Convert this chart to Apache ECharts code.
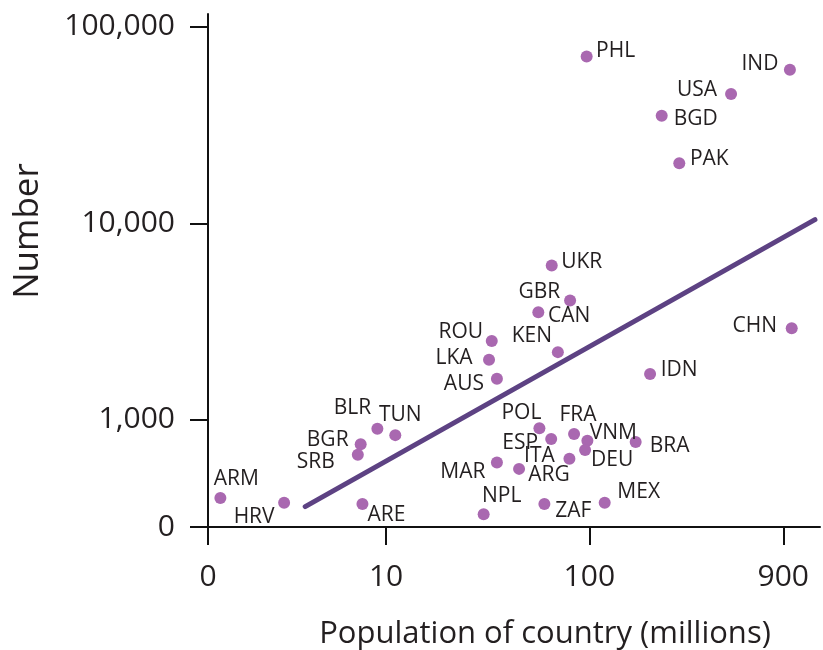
<!DOCTYPE html>
<html>
<head>
<meta charset="utf-8">
<script src="https://cdn.jsdelivr.net/npm/echarts@6/dist/echarts.min.js"></script>
<style>html,body{margin:0;padding:0;background:#fff}#chart{width:823px;height:650px}</style>
</head>
<body>
<div id="chart"></div>
<script>
// ---- data ----
const countries = ['PHL','IND','USA','BGD','PAK','UKR','GBR','CAN','ROU','KEN','LKA','AUS','IDN','CHN',
  'ARM','HRV','ARE','BGR','SRB','BLR','TUN','MAR','NPL','POL','ESP','FRA','VNM','DEU','ITA','ARG','BRA','ZAF','MEX'];
const population = [97, 970, 498, 227, 277, 65.3, 56.1, 80.4, 33.1, 70, 32.1, 35.1, 199, 990,
  1.53, 3.15, 7.65, 7.5, 7.26, 9.06, 11.1, 35.1, 30.2, 56.8, 64.9, 84.1, 97.8, 95.3, 79.8, 45.1, 169, 60.1, 119];
const numbers = [70600, 60400, 45400, 35200, 20200, 6100, 3530, 4050, 2520, 2210, 2020, 1620, 1710, 2920,
  400, 379, 373, 752, 664, 900, 836, 607, 331, 907, 800, 846, 782, 703, 634, 563, 771, 373, 379];
const trendX = [4.0, 1288];
const trendY = [362, 10430];
const xTickValues = [1.33, 10, 100, 900];
const xTickLabels = ['0', '10', '100', '900'];
const yTickValues = [285, 1000, 10000, 100000];
const yTickLabels = ['0', '1,000', '10,000', '100,000'];
const xMax = 1364;
const yMax = 116000;

// ---- label placement (style only): text-centre offset from the dot centre ----
const labelOffsets = {
  PHL:[29,-5], IND:[-30,-6], USA:[-34,-4], BGD:[34,3], PAK:[30,-4], UKR:[30,-3],
  GBR:[1,-20], CAN:[-1,16], ROU:[-31,-9], KEN:[-26,-16], LKA:[-35,-2], AUS:[-33,5],
  IDN:[29,-4], CHN:[-37,-2], ARM:[16,-19], HRV:[-30,14], ARE:[24,11], BGR:[-33,-4],
  SRB:[-42,7], BLR:[-25,-21], TUN:[5,-20], MAR:[-34,10], NPL:[18,-18], POL:[-18,-15],
  ESP:[-31,4], FRA:[4,-19], VNM:[26,-8], DEU:[27,10], ITA:[-30,-3], ARG:[30,6],
  BRA:[34,4], ZAF:[29,7], MEX:[34,-11]
};

const lg = Math.log10;
const FONT = '"Open Sans"';
const TEXT = '#231f20';
const DOT = 12;

function tickFormatter(values, labels) {
  return function (v) {
    for (let i = 0; i < values.length; i++) {
      if (Math.abs(lg(values[i]) - v) < 1e-6) return labels[i];
    }
    return '';
  };
}

const scatterData = countries.map((c, i) => {
  const off = labelOffsets[c];
  return {
    name: c,
    value: [lg(population[i]), lg(numbers[i])],
    label: { position: [DOT / 2 + off[0], DOT / 2 + off[1]] }
  };
});

const chart = echarts.init(document.getElementById('chart'), null, { renderer: 'canvas' });
chart.setOption({
  animation: false,
  backgroundColor: '#fff',
  grid: { left: 208, right: 3, top: 14, bottom: 123, containLabel: false, outerBoundsMode: 'none' },
  xAxis: {
    type: 'value',
    min: lg(xTickValues[0]),
    max: lg(xMax),
    name: 'Population of country (millions)',
    nameLocation: 'middle',
    nameGap: 92,
    nameTextStyle: { fontFamily: FONT, fontSize: 31, color: TEXT, padding: [0, 0, 0, 62] },
    splitLine: { show: false },
    axisLine: { onZero: false, lineStyle: { color: '#111', width: 2 } },
    axisTick: { customValues: xTickValues.map(lg), length: 18, lineStyle: { color: '#111', width: 2 } },
    axisLabel: {
      customValues: xTickValues.map(lg),
      formatter: tickFormatter(xTickValues, xTickLabels),
      margin: 35, fontFamily: FONT, fontSize: 30, color: TEXT
    }
  },
  yAxis: {
    type: 'value',
    min: lg(yTickValues[0]),
    max: lg(yMax),
    name: 'Number',
    nameLocation: 'middle',
    nameRotate: 90,
    nameGap: 162,
    nameTextStyle: { fontFamily: FONT, fontSize: 35, color: TEXT, padding: [0, 0, 0, 79] },
    splitLine: { show: false },
    axisLine: { onZero: false, lineStyle: { color: '#111', width: 2 } },
    axisTick: { customValues: yTickValues.map(lg), length: 18, lineStyle: { color: '#111', width: 2 } },
    axisLabel: {
      customValues: yTickValues.map(lg),
      formatter: tickFormatter(yTickValues, yTickLabels),
      margin: 33, fontFamily: FONT, fontSize: 30, color: TEXT
    }
  },
  series: [
    {
      type: 'line',
      data: trendX.map((x, i) => [lg(x), lg(trendY[i])]),
      symbol: 'none',
      lineStyle: { color: '#5d4283', width: 5, cap: 'round' },
      z: 1,
      silent: true
    },
    {
      type: 'scatter',
      data: scatterData,
      symbolSize: DOT,
      itemStyle: { color: '#a968b0', opacity: 1 },
      z: 2,
      label: {
        show: true,
        formatter: '{b}',
        fontFamily: FONT,
        fontSize: 21,
        color: TEXT,
        align: 'center',
        verticalAlign: 'middle'
      }
    }
  ]
});
</script>
</body>
</html>
